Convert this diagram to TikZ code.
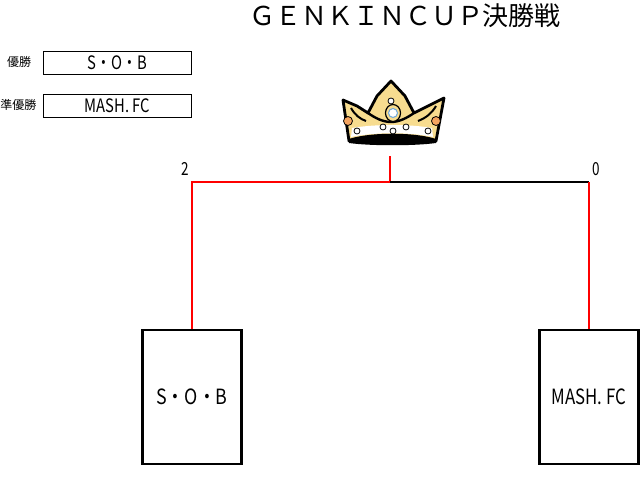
\documentclass[tikz,border=0pt]{standalone}
\usepackage{fontspec}
\setmainfont{Noto Sans CJK JP}
\newfontfamily\jpfont{Noto Sans CJK JP}
\definecolor{crownyellow}{HTML}{F7DC8F}
\definecolor{jewelorange}{HTML}{F4A460}
\definecolor{jewelblue}{HTML}{6FA8DC}
\begin{document}
\begin{tikzpicture}[x=1pt,y=-1pt,
  redline/.style={draw=red,line width=2pt},
  blackline/.style={draw=black,line width=2pt},
  teambox/.style={draw=black,line width=2.6pt,minimum width=99pt,minimum height=134pt,inner sep=0pt,font=\jpfont\fontsize{21}{21}\selectfont},
  resbox/.style={draw=black,line width=0.9pt,minimum width=148pt,minimum height=23pt,inner sep=0pt,font=\jpfont\fontsize{18.5}{18.5}\selectfont},
  lbl/.style={inner sep=0pt,font=\jpfont\fontsize{12}{12}\selectfont},
  score/.style={inner sep=0pt,font=\jpfont\fontsize{18}{18}\selectfont},
  title/.style={inner sep=0pt,font=\jpfont\fontsize{26}{26}\selectfont},
  jewel/.style={draw=black,line width=0.8pt,fill=white}
]
\useasboundingbox (0,0) rectangle (641,478);
\fill[white] (0,0) rectangle (641,478);

% title
\node[title] (title) at (405,16) {ＧＥＮＫＩＮＣＵＰ決勝戦};

% results
\node[lbl] (l1) at (19,62) {優勝};
\node[lbl] (l2) at (18.5,105) {準優勝};
\node[resbox] (r1) at (117.5,63) {\scalebox{0.8}[1]{S・O・B}};
\node[resbox] (r2) at (117.5,106) {\scalebox{0.8}[1]{MASH. FC}};

% team boxes
\node[teambox] (t1) at (192,397) {\scalebox{0.85}[1]{S・O・B}};
\node[teambox] (t2) at (589,397) {\scalebox{0.8}[1]{MASH. FC}};

% bracket
\coordinate (c1) at (192,182);
\coordinate (c2) at (589,182);
\coordinate (m) at (390,182);
\coordinate (mt) at (390,156);
\draw[redline] (t1.north) -- (c1) -- (m);
\draw[redline] (m) -- (mt);
\draw[blackline] (m) -- (c2);
\draw[redline] (t2.north) -- (c2);

\node[score] (s1) at (185,169) {\scalebox{0.75}[1]{2}};
\node[score] (s2) at (596,169) {\scalebox{0.75}[1]{0}};

% crown
\begin{scope}
\draw[line width=2.8pt,line join=round,fill=crownyellow]
  (349,141) -- (343,100) -- (357,106) -- (368,113) -- (377,96) -- (391,81)
  -- (405,96) -- (414,113) -- (428,106) -- (444,98) -- (436,141)
  .. controls (415,134) and (367,134) .. (349,141) -- cycle;
\fill[white] (352,128) .. controls (375,124) and (410,124) .. (432,128)
  -- (433,137) .. controls (410,132) and (375,132) .. (351,137) -- cycle;
\fill[black] (349,139) .. controls (370,132) and (415,132) .. (436,139)
  -- (436,143) .. controls (415,146) and (370,146) .. (349,143) -- cycle;
\draw[line width=2.4pt] (368,113) .. controls (375,118) and (383,122) .. (391,122)
  .. controls (399,122) and (407,118) .. (414,113);
\draw[line width=2pt] (351,108) .. controls (355,115) and (360,119) .. (366,121);
\draw[line width=2pt] (436,106) .. controls (432,113) and (426,118) .. (418,121);
\draw[jewel,fill=crownyellow,line width=1.2pt] (393,113) ellipse (7.5 and 8.5);
\draw[draw=jewelblue,line width=1pt,fill=white] (393,113) circle (4.5);
\draw[jewel] (391,101) circle (3);
\draw[jewel] (383,127) circle (3);
\draw[jewel] (393,131) circle (3);
\draw[jewel] (406,127) circle (3);
\draw[jewel] (357,131) circle (3);
\draw[jewel] (428,131) circle (3);
\draw[jewel,fill=jewelorange] (348,121) circle (4.5);
\draw[jewel,fill=jewelorange] (436,121) circle (4.5);
\end{scope}
\end{tikzpicture}
\end{document}
